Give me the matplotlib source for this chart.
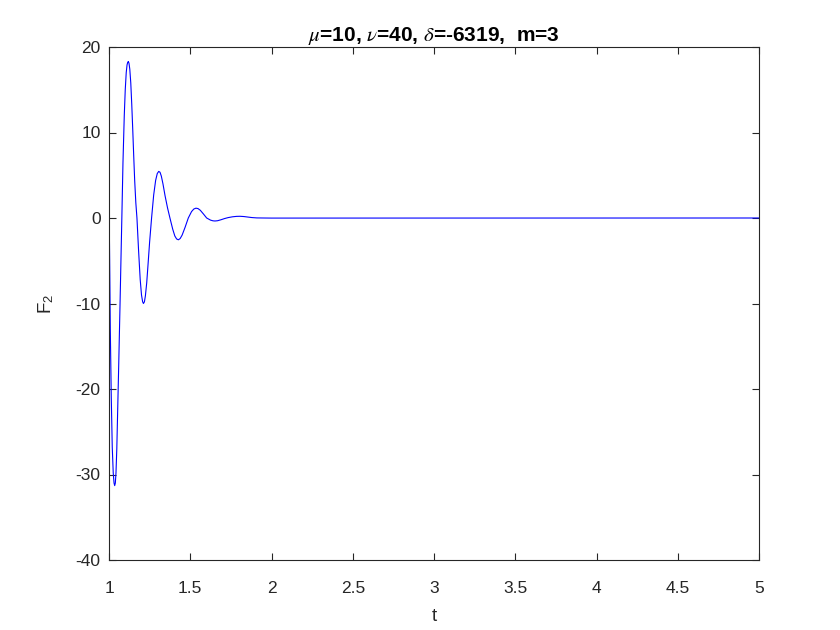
import numpy as np
import matplotlib
matplotlib.use("Agg")
from matplotlib import pyplot as plt

# values
tVals = [1.000, 1.004, 1.008, 1.014, 1.020, 1.026, 1.031, 1.035, 1.039, 1.043,
         1.048, 1.054, 1.060, 1.068, 1.074, 1.079, 1.086, 1.094, 1.100, 1.106,
         1.111, 1.115, 1.119, 1.123, 1.128, 1.134, 1.140, 1.146, 1.152, 1.158,
         1.165, 1.172, 1.182, 1.192, 1.200, 1.207, 1.212, 1.218, 1.224, 1.232,
         1.240, 1.250, 1.262, 1.275, 1.287, 1.297, 1.306, 1.314, 1.322, 1.332,
         1.345, 1.360, 1.375, 1.392, 1.405, 1.416, 1.427, 1.438, 1.450, 1.468,
         1.488, 1.508, 1.522, 1.535, 1.548, 1.562, 1.582, 1.601, 1.625, 1.640,
         1.652, 1.668, 1.690, 1.712, 1.734, 1.760, 1.785, 1.806, 1.830, 1.855,
         1.880, 1.910, 1.950, 2.000, 5.000]
f2Vals = [2.5, -5.0, -13.0, -21.0, -26.8, -29.8, -31.0, -31.3, -31.0, -29.8,
          -27.0, -22.0, -17.0, -10.0, -4.5, 0.0, 6.5, 12.0, 15.0, 17.0,
          17.9, 18.2, 18.3, 18.1, 17.4, 15.8, 13.3, 10.4, 7.3, 4.4,
          1.8, 0.0, -3.8, -7.2, -9.0, -9.8, -10.0, -9.8, -9.1, -7.6,
          -5.5, -2.8, 0.0, 2.7, 4.4, 5.2, 5.45, 5.35, 4.9, 4.0,
          2.6, 1.2, 0.0, -1.3, -2.1, -2.45, -2.55, -2.4, -2.0, -1.1,
          0.0, 0.75, 1.05, 1.15, 1.1, 0.9, 0.45, 0.0, -0.25, -0.33,
          -0.35, -0.32, -0.2, -0.06, 0.05, 0.14, 0.19, 0.2, 0.17, 0.11,
          0.05, 0.01, 0.0, -0.01, 0.0]

xTicks = [1, 1.5, 2, 2.5, 3, 3.5, 4, 4.5, 5]
xTickLabels = ["1", "1.5", "2", "2.5", "3", "3.5", "4", "4.5", "5"]
yTicks = [-40, -30, -20, -10, 0, 10, 20]
yTickLabels = ["-40", "-30", "-20", "-10", "0", "10", "20"]

plt.rcParams['font.family'] = ['Liberation Sans', 'DejaVu Sans']
plt.rcParams['mathtext.fontset'] = 'stix'
plt.rcParams['axes.unicode_minus'] = False

axCol = (0.15, 0.15, 0.15)

fig = plt.figure(figsize=(8.4, 6.3), dpi=100)
ax = fig.add_axes([109 / 840, 1 - 560 / 630, 650 / 840, 513 / 630])
ax.plot(tVals, f2Vals, color=(0, 0, 1), lw=0.8)

ax.set_xlim(1, 5)
ax.set_ylim(-40, 20)
ax.set_xticks(xTicks)
ax.set_xticklabels(xTickLabels)
ax.set_yticks(yTicks)
ax.set_yticklabels(yTickLabels)
ax.tick_params(direction='in', length=5, width=0.8, top=True, right=True,
               labelsize=12.5, colors=axCol, labelcolor=axCol)
ax.tick_params(axis='x', pad=15)
ax.tick_params(axis='y', pad=6)
for s in ax.spines.values():
    s.set_color(axCol)
    s.set_linewidth(0.8)

ax.set_xlabel('t', fontsize=13.5, color=axCol, labelpad=9)
ax.set_ylabel(r'F$_\mathregular{2}$', fontsize=13.5, color=axCol, labelpad=14)
ax.set_title(r'$\mu$=10, $\nu$=40, $\delta$=-6319,  m=3', fontsize=15,
             fontweight='bold', pad=4)

fig.savefig('out.png', dpi=100)
